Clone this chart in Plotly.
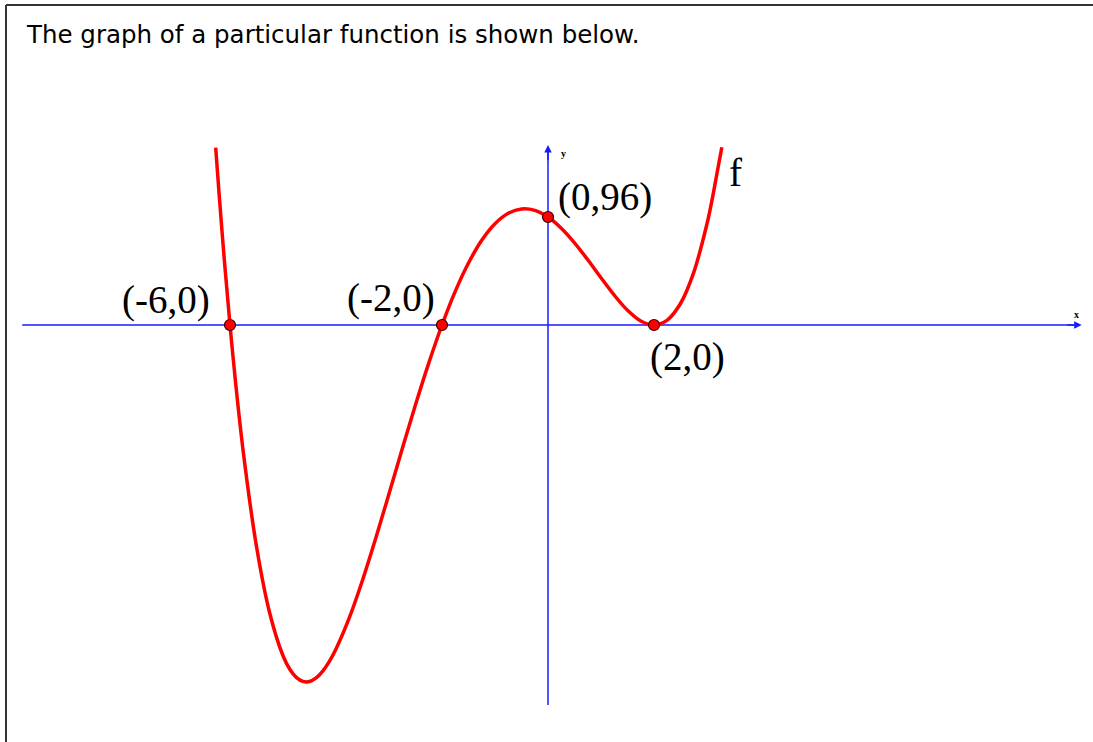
import plotly.graph_objects as go

# Curve samples (x, f(x))
x_vals = [-6.27, -6.2, -6.1, -6.0, -5.9, -5.75, -5.5, -5.25, -5.0, -4.875, -4.75, -4.625, -4.5,
          -4.375, -4.25, -4.125, -4.0,
          -3.75, -3.5, -3.25, -3.0, -2.75, -2.5, -2.25, -2.0, -1.75, -1.5, -1.25, -1.0,
          -0.75, -0.5, -0.25, 0.0, 0.25, 0.5, 0.75, 1.0, 1.25, 1.5, 1.75, 2.0, 2.25,
          2.5, 2.75, 3.0, 3.1, 3.2, 3.28]
y_vals = [157.7, 113.0, 53.8, 0.0, -48.7, -112.6, -196.9, -256.2, -294.0, -305.8, -313.2, -316.8, -316.9,
          -313.7, -307.6, -299.0, -288.0,
          -260.4, -226.9, -189.5, -150.0, -110.0, -70.9, -33.9, 0.0, 29.9, 55.1, 75.3, 90.0,
          99.3, 103.1, 101.9, 96.0, 86.1, 73.1, 58.0, 42.0, 26.5, 13.1, 3.6, 0.0, 4.4,
          19.1, 46.8, 90.0, 112.3, 137.8, 158.0]

# Marked points and their labels
point_x = [-6, -2, 0, 2]
point_y = [0, 0, 96, 0]
point_labels = ["(-6,0)", "(-2,0)", "(0,96)", "(2,0)"]
label_shifts = [(-64, 25), (-51, 27), (57, 20), (33, -32)]

# Axis extents
x_axis_min, x_axis_max = -9.92, 10.07
y_axis_min, y_axis_max = -337.8, 160.0

title_text = "The graph of a particular function is shown below."
func_name = "f"
func_label_pos = (3.53, 136)

AXIS_BLUE = "#1a1aff"

fig = go.Figure()

fig.add_trace(go.Scatter(
    x=x_vals, y=y_vals, mode="lines",
    line=dict(color="#ff0000", width=3.5, shape="spline", smoothing=1.0),
    hoverinfo="skip", showlegend=False))

fig.add_trace(go.Scatter(
    x=point_x, y=point_y, mode="markers",
    marker=dict(color="#ff0000", size=11, line=dict(color="#3a0000", width=1.2)),
    showlegend=False))

annotations = []
# arrowheads at the positive ends of the axes
annotations.append(dict(x=x_axis_max, y=0, ax=x_axis_max - 0.3, ay=0, xref="x", yref="y",
                        axref="x", ayref="y", showarrow=True, arrowhead=2, arrowsize=1,
                        arrowwidth=1.5, arrowcolor=AXIS_BLUE, text=""))
annotations.append(dict(x=0, y=y_axis_max, ax=0, ay=y_axis_max - 15, xref="x", yref="y",
                        axref="x", ayref="y", showarrow=True, arrowhead=2, arrowsize=1,
                        arrowwidth=1.5, arrowcolor=AXIS_BLUE, text=""))
annotations.append(dict(x=x_axis_max, y=0, xref="x", yref="y", text="<b>x</b>",
                        showarrow=False, xshift=-5, yshift=11,
                        font=dict(family="Liberation Serif", size=10, color="#000")))
annotations.append(dict(x=0, y=y_axis_max, xref="x", yref="y", text="<b>y</b>",
                        showarrow=False, xshift=15, yshift=-8,
                        font=dict(family="Liberation Serif", size=10, color="#000")))

for px, py, lab, (dx, dy) in zip(point_x, point_y, point_labels, label_shifts):
    annotations.append(dict(x=px, y=py, xref="x", yref="y", text=lab, showarrow=False,
                            xshift=dx, yshift=dy,
                            font=dict(family="Liberation Serif", size=39, color="#000")))

annotations.append(dict(x=func_label_pos[0], y=func_label_pos[1], xref="x", yref="y",
                        text=func_name, showarrow=False,
                        font=dict(family="Liberation Serif", size=39, color="#000")))

annotations.append(dict(x=24 / 1093, y=1 - 35 / 742, xref="paper", yref="paper",
                        text=title_text, showarrow=False, xanchor="left", yanchor="middle",
                        font=dict(family="Comic Sans MS, DejaVu Sans, sans-serif", size=24.5, color="#000")))

shapes = [
    dict(type="line", xref="paper", yref="paper", x0=6 / 1093, x1=1, y0=1 - 5 / 742, y1=1 - 5 / 742,
         line=dict(color="#333", width=2)),
    dict(type="line", xref="paper", yref="paper", x0=6 / 1093, x1=6 / 1093, y0=0, y1=1 - 5 / 742,
         line=dict(color="#333", width=2)),
    # axes lines (below the curve and points)
    dict(type="line", xref="x", yref="y", x0=x_axis_min, x1=x_axis_max - 0.1, y0=0, y1=0,
         line=dict(color=AXIS_BLUE, width=1.5), layer="below"),
    dict(type="line", xref="x", yref="y", x0=0, x1=0, y0=y_axis_min, y1=y_axis_max - 5,
         line=dict(color=AXIS_BLUE, width=1.5), layer="below"),
]

fig.update_layout(
    width=1093, height=742,
    margin=dict(l=0, r=0, t=0, b=0),
    paper_bgcolor="white", plot_bgcolor="white",
    xaxis=dict(range=[-548 / 53, (1093 - 548) / 53], visible=False, fixedrange=True),
    yaxis=dict(range=[-(742 - 325) / 1.125, 325 / 1.125], visible=False, fixedrange=True),
    annotations=annotations, shapes=shapes, showlegend=False,
)

fig.write_html("out.html", config={"displayModeBar": False},
               post_script="document.body.style.margin='0';")
